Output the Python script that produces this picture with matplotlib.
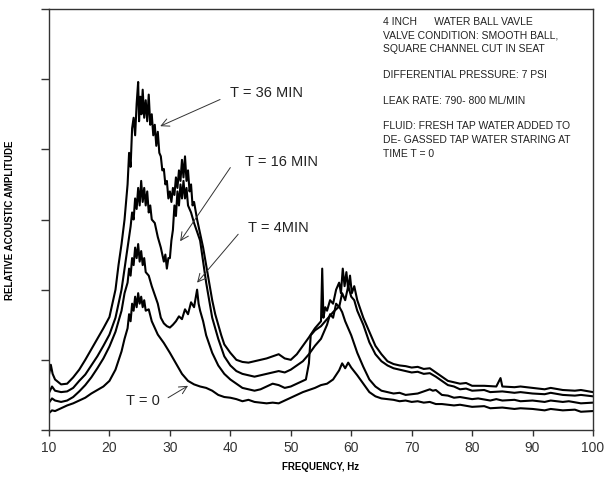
import matplotlib
matplotlib.use('Agg')
import matplotlib.pyplot as plt

plt.rcParams['font.family'] = ['Liberation Sans', 'DejaVu Sans']

# spectra (frequency in Hz, relative amplitude in tick units)
f_t0 = [10, 10.5, 11, 12, 13, 14, 15, 16, 17, 18, 19, 20, 21, 22, 22.5, 23, 23.25, 23.5, 23.75, 24,
        24.25, 24.5, 24.75, 25, 25.25, 25.5, 25.75, 26, 26.5, 27, 28, 29, 30, 31, 32, 33, 34, 35, 36, 37,
        38, 39, 40, 41, 42, 43, 44, 45, 46, 47, 48, 49, 50, 51, 52, 53, 54, 55, 56, 57,
        58, 58.5, 59, 59.5, 60, 61, 62, 63, 64, 65, 66, 67, 68, 69, 70, 71, 72, 73, 74, 75,
        77, 78, 80, 82, 83, 85, 87, 88, 90, 92, 93, 95, 97, 98, 100]
a_t0 = [0.24, 0.28, 0.27, 0.31, 0.35, 0.38, 0.42, 0.46, 0.52, 0.57, 0.62, 0.70, 0.86, 1.12, 1.30, 1.45, 1.65, 1.55, 1.80, 1.70,
        1.90, 1.75, 1.95, 1.80, 1.90, 1.75, 1.85, 1.70, 1.72, 1.55, 1.36, 1.24, 1.10, 0.95, 0.80, 0.70, 0.65, 0.62, 0.60, 0.56,
        0.50, 0.47, 0.46, 0.44, 0.41, 0.43, 0.40, 0.39, 0.38, 0.39, 0.38, 0.42, 0.46, 0.50, 0.54, 0.57, 0.60, 0.64, 0.66, 0.72,
        0.85, 0.95, 0.88, 0.96, 0.89, 0.78, 0.66, 0.54, 0.48, 0.45, 0.44, 0.43, 0.41, 0.42, 0.40, 0.41, 0.39, 0.40, 0.37, 0.37,
        0.35, 0.36, 0.33, 0.34, 0.31, 0.32, 0.30, 0.31, 0.30, 0.28, 0.30, 0.28, 0.29, 0.26, 0.27]

f_t4 = [10, 10.5, 11, 12, 13, 14, 15, 16, 17, 18, 19, 20, 21, 22, 22.5, 23, 23.25, 23.5, 23.75, 24,
        24.25, 24.5, 24.75, 25, 25.25, 25.5, 25.75, 26, 26.5, 27, 28, 28.5, 29, 29.5, 30, 30.5, 31, 31.5, 32, 32.5,
        33, 33.5, 34, 34.5, 34.75, 35, 35.5, 36, 37, 38, 39, 40, 41, 42, 43, 44, 45, 46, 47, 48,
        49, 50, 51, 52, 52.5, 53, 53.3, 54, 55, 56, 57, 58, 58.5, 59, 60, 61, 62, 63, 64, 65,
        66, 67, 68, 69, 70, 71, 72, 73, 73.5, 74, 75, 76, 77, 78, 80, 81, 83, 84, 85, 87,
        88, 90, 92, 93, 95, 96, 98, 100]
a_t4 = [0.39, 0.45, 0.42, 0.40, 0.42, 0.47, 0.55, 0.64, 0.75, 0.88, 1.02, 1.19, 1.40, 1.70, 1.95, 2.10, 2.30, 2.20, 2.45, 2.35,
        2.60, 2.45, 2.65, 2.40, 2.55, 2.35, 2.45, 2.25, 2.20, 2.05, 1.80, 1.60, 1.52, 1.48, 1.46, 1.50, 1.55, 1.62, 1.58, 1.72,
        1.65, 1.82, 1.75, 2.00, 1.80, 1.70, 1.55, 1.35, 1.10, 0.92, 0.80, 0.72, 0.66, 0.60, 0.58, 0.56, 0.58, 0.62, 0.66, 0.64,
        0.60, 0.62, 0.66, 0.70, 0.72, 0.95, 1.35, 1.42, 1.48, 1.58, 1.68, 1.76, 1.68, 1.55, 1.35, 1.10, 0.90, 0.72, 0.62, 0.56,
        0.54, 0.52, 0.53, 0.50, 0.51, 0.52, 0.55, 0.58, 0.56, 0.57, 0.50, 0.49, 0.46, 0.47, 0.44, 0.45, 0.42, 0.44, 0.42, 0.43,
        0.41, 0.42, 0.40, 0.42, 0.40, 0.41, 0.38, 0.39]

f_t16 = [10, 10.5, 11, 12, 13, 14, 15, 16, 17, 18, 19, 20, 21, 22, 22.5, 23, 23.5, 23.75, 24, 24.25,
         24.5, 24.75, 25, 25.25, 25.5, 25.75, 26, 26.25, 26.5, 26.75, 27, 27.5, 28, 28.5, 29, 29.25, 29.5, 29.75, 30, 30.25,
         30.5, 30.75, 31, 31.25, 31.5, 31.75, 32, 32.25, 32.5, 32.75, 33, 33.5, 34, 35, 35.5, 36, 36.5, 37, 38, 39,
         40, 41, 42, 43, 44, 45, 46, 47, 48, 49, 50, 51, 52, 53, 54, 55, 56, 56.5, 57, 57.5,
         58, 58.5, 59, 59.5, 60, 60.5, 61, 62, 63, 64, 65, 66, 67, 68, 69, 70, 71, 72, 73, 74,
         75, 76, 77, 78, 79, 80, 82, 83, 85, 87, 88, 90, 92, 93, 95, 97, 98, 100]
a_t16 = [0.53, 0.62, 0.56, 0.54, 0.55, 0.60, 0.70, 0.79, 0.92, 1.05, 1.20, 1.36, 1.60, 2.00, 2.30, 2.60, 2.90, 3.10, 3.00, 3.30,
         3.15, 3.45, 3.20, 3.55, 3.25, 3.45, 3.20, 3.40, 3.10, 3.20, 3.00, 2.95, 2.75, 2.60, 2.40, 2.50, 2.30, 2.45, 2.45, 2.70,
         2.85, 3.20, 3.05, 3.40, 3.20, 3.50, 3.30, 3.55, 3.30, 3.45, 3.20, 3.10, 2.95, 2.70, 2.40, 2.10, 1.85, 1.60, 1.30, 1.05,
         0.92, 0.84, 0.80, 0.78, 0.76, 0.78, 0.80, 0.82, 0.84, 0.82, 0.86, 0.92, 0.98, 1.08, 1.20, 1.30, 1.50, 1.65, 1.60, 1.80,
         1.75, 1.95, 1.85, 2.05, 1.90, 1.85, 1.70, 1.50, 1.25, 1.08, 0.98, 0.92, 0.88, 0.86, 0.84, 0.82, 0.83, 0.80, 0.81, 0.76,
         0.70, 0.64, 0.62, 0.58, 0.59, 0.56, 0.57, 0.54, 0.55, 0.53, 0.54, 0.52, 0.51, 0.53, 0.50, 0.49, 0.50, 0.48]

f_t36 = [10, 10.3, 10.6, 11, 12, 13, 14, 15, 16, 17, 18, 19, 20, 21, 21.5, 22, 22.5, 23, 23.25, 23.5,
         23.75, 24, 24.25, 24.5, 24.75, 24.9, 25.1, 25.3, 25.5, 25.75, 26, 26.25, 26.5, 26.75, 27, 27.25, 27.5, 27.75, 28, 28.25,
         28.5, 28.75, 29, 29.25, 29.5, 29.75, 30, 30.25, 30.5, 30.75, 31, 31.25, 31.5, 31.75, 32, 32.25, 32.5, 32.75, 33, 33.25,
         33.5, 33.75, 34, 34.5, 35, 35.5, 36, 36.5, 37, 37.5, 38, 38.5, 39, 40, 41, 42, 43, 44, 45, 46,
         47, 48, 49, 50, 51, 52, 53, 54, 54.5, 55, 55.2, 55.4, 55.7, 56, 56.5, 57, 57.5, 58, 58.3, 58.6,
         58.9, 59.2, 59.5, 59.8, 60.1, 60.5, 61, 62, 63, 64, 65, 66, 67, 68, 69, 70, 71, 72, 73, 74,
         75, 76, 77, 78, 79, 80, 82, 84, 84.7, 85, 87, 88, 90, 92, 93, 95, 97, 98, 100]
a_t36 = [0.79, 0.93, 0.80, 0.72, 0.65, 0.66, 0.75, 0.86, 1.00, 1.15, 1.30, 1.45, 1.61, 2.00, 2.35, 2.65, 3.00, 3.50, 3.95, 3.75,
         4.30, 4.45, 4.20, 4.65, 4.96, 4.40, 4.75, 4.50, 4.85, 4.45, 4.70, 4.40, 4.78, 4.35, 4.50, 4.20, 4.35, 4.05, 4.25, 3.95,
         3.90, 3.70, 3.72, 3.50, 3.55, 3.30, 3.40, 3.25, 3.45, 3.35, 3.60, 3.45, 3.70, 3.55, 3.85, 3.60, 3.90, 3.55, 3.70, 3.40,
         3.50, 3.20, 3.25, 3.00, 2.80, 2.60, 2.35, 2.10, 1.85, 1.65, 1.50, 1.35, 1.22, 1.10, 1.00, 0.97, 0.96, 0.98, 1.00, 1.02,
         1.05, 1.08, 1.02, 1.00, 1.08, 1.20, 1.32, 1.45, 1.50, 1.55, 2.30, 1.60, 1.75, 1.70, 1.85, 1.80, 2.00, 2.10, 1.95, 2.30,
         2.05, 2.25, 2.00, 2.20, 1.95, 2.05, 1.85, 1.60, 1.40, 1.20, 1.08, 0.98, 0.94, 0.92, 0.91, 0.89, 0.90, 0.87, 0.88, 0.82,
         0.76, 0.70, 0.68, 0.66, 0.67, 0.63, 0.63, 0.62, 0.74, 0.62, 0.61, 0.62, 0.60, 0.58, 0.60, 0.57, 0.56, 0.57, 0.54]

info_lines = ["4 INCH      WATER BALL VAVLE",
              "VALVE CONDITION: SMOOTH BALL,",
              "SQUARE CHANNEL CUT IN SEAT",
              "DIFFERENTIAL PRESSURE: 7 PSI",
              "LEAK RATE: 790- 800 ML/MIN",
              "FLUID: FRESH TAP WATER ADDED TO",
              "DE- GASSED TAP WATER STARING AT",
              "TIME T = 0"]
info_y = [22, 36, 49, 75, 101, 126, 140, 154]  # pixel rows

fig = plt.figure(figsize=(6.05, 4.89), dpi=100)
ax = fig.add_axes([49/605, 1 - 431/489, 544/605, 421/489])

for f, a in [(f_t0, a_t0), (f_t4, a_t4), (f_t16, a_t16), (f_t36, a_t36)]:
    ax.plot(f, a, color='black', lw=1.5)

ax.set_xlim(10, 100)
ax.set_ylim(0, 6)
ax.set_xticks(range(10, 101, 10))
ax.set_yticks(range(0, 7))
ax.set_yticklabels([])
ax.tick_params(axis='x', direction='out', length=4, width=1, labelsize=10, colors='#333', pad=3)
ax.tick_params(axis='y', direction='out', length=6, width=1, colors='#333')
for s in ax.spines.values():
    s.set_color('#333')
    s.set_linewidth(1)

ax.set_xlabel('FREQUENCY, Hz', fontsize=7, fontweight='bold')
ax.xaxis.set_label_coords(0.5, -31/421)
ax.set_ylabel('RELATIVE ACOUSTIC AMPLITUDE', fontsize=7, fontweight='bold')
ax.yaxis.set_label_coords(-34/544, 0.5)

arrow = dict(arrowstyle='->', color='#333', lw=0.7, shrinkA=0, shrinkB=0,
             mutation_scale=14)
ax.annotate('', xy=(28.4, 4.33), xytext=(38.3, 4.71), arrowprops=arrow)
ax.text(40.0, 4.81, 'T = 36 MIN', fontsize=10.5, color='#222', va='center')
ax.annotate('', xy=(31.7, 2.69), xytext=(40.0, 3.74), arrowprops=arrow)
ax.text(42.4, 3.83, 'T = 16 MIN', fontsize=10.5, color='#222', va='center')
ax.annotate('', xy=(34.5, 2.1), xytext=(41.3, 2.79), arrowprops=arrow)
ax.text(42.9, 2.89, 'T = 4MIN', fontsize=10.5, color='#222', va='center')
ax.annotate('', xy=(33.0, 0.63), xytext=(29.7, 0.46), arrowprops=arrow)
ax.text(22.7, 0.43, 'T = 0', fontsize=10.5, color='#222', va='center')

for line, py in zip(info_lines, info_y):
    fig.text(383/605, 1 - py/489, line, fontsize=7.5, color='#222', va='center')

fig.savefig('out.png', dpi=100)
